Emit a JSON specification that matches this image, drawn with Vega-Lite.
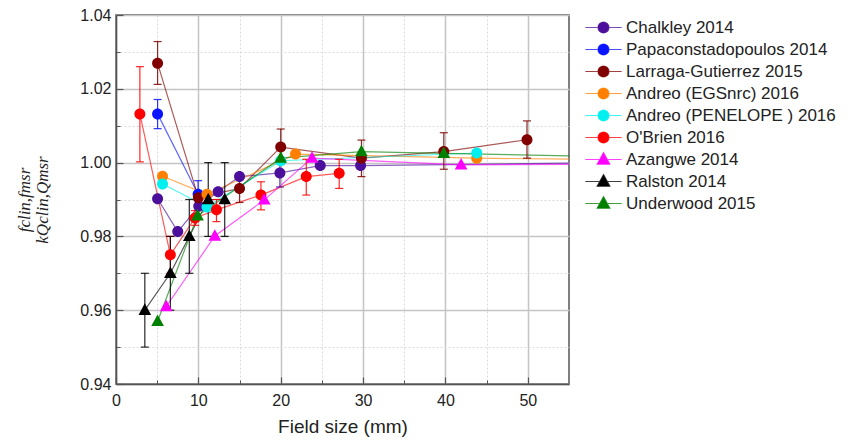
{
  "$schema": "https://vega.github.io/schema/vega-lite/v6.json",
  "width": 453,
  "height": 369,
  "autosize": {"type": "none"},
  "padding": {"left": 116, "top": 15, "right": 291, "bottom": 56},
  "config": {
    "font": "Liberation Sans",
    "view": {"stroke": "#555555", "strokeWidth": 1.5},
    "axis": {"labelColor": "#222222", "titleColor": "#222222", "tickColor": "#555555", "domainColor": "#555555"}
  },
  "data": {
    "values": [
      {"s": "Chalkley 2014", "x": 5.05, "y": 0.9902, "lo": null, "hi": null},
      {"s": "Chalkley 2014", "x": 7.5, "y": 0.9813, "lo": null, "hi": null},
      {"s": "Chalkley 2014", "x": 10.05, "y": 0.9882, "lo": null, "hi": null},
      {"s": "Chalkley 2014", "x": 12.4, "y": 0.9921, "lo": null, "hi": null},
      {"s": "Chalkley 2014", "x": 15.0, "y": 0.9962, "lo": null, "hi": null},
      {"s": "Chalkley 2014", "x": 19.9, "y": 0.9972, "lo": 0.9934, "hi": 1.001},
      {"s": "Chalkley 2014", "x": 24.8, "y": 0.9992, "lo": null, "hi": null},
      {"s": "Chalkley 2014", "x": 29.7, "y": 0.9992, "lo": null, "hi": null},
      {"s": "Chalkley 2014", "x": 60, "y": 1.0, "lo": null, "hi": null},
      {"s": "Papaconstadopoulos 2014", "x": 5.05, "y": 1.0132, "lo": 1.0092, "hi": 1.0171},
      {"s": "Papaconstadopoulos 2014", "x": 9.97, "y": 0.9914, "lo": 0.9878, "hi": 0.9951},
      {"s": "Larraga-Gutierrez 2015", "x": 5.05, "y": 1.0269, "lo": 1.0212, "hi": 1.0328},
      {"s": "Larraga-Gutierrez 2015", "x": 10.0, "y": 0.9905, "lo": null, "hi": null},
      {"s": "Larraga-Gutierrez 2015", "x": 15.0, "y": 0.993, "lo": 0.9892, "hi": 0.9968},
      {"s": "Larraga-Gutierrez 2015", "x": 20.0, "y": 1.0042, "lo": 0.9995, "hi": 1.0091},
      {"s": "Larraga-Gutierrez 2015", "x": 29.8, "y": 1.0012, "lo": 0.9962, "hi": 1.0061},
      {"s": "Larraga-Gutierrez 2015", "x": 39.8, "y": 1.003, "lo": 0.9982, "hi": 1.0081},
      {"s": "Larraga-Gutierrez 2015", "x": 49.9, "y": 1.0062, "lo": 1.0012, "hi": 1.0113},
      {"s": "Andreo (EGSnrc) 2016", "x": 5.65, "y": 0.9963, "lo": null, "hi": null},
      {"s": "Andreo (EGSnrc) 2016", "x": 11.05, "y": 0.9914, "lo": null, "hi": null},
      {"s": "Andreo (EGSnrc) 2016", "x": 21.8, "y": 1.0023, "lo": null, "hi": null},
      {"s": "Andreo (EGSnrc) 2016", "x": 43.8, "y": 1.0012, "lo": null, "hi": null},
      {"s": "Andreo (EGSnrc) 2016", "x": 60, "y": 1.0008, "lo": null, "hi": null},
      {"s": "Andreo (PENELOPE ) 2016", "x": 5.65, "y": 0.9942, "lo": null, "hi": null},
      {"s": "Andreo (PENELOPE ) 2016", "x": 11.05, "y": 0.988, "lo": null, "hi": null},
      {"s": "Andreo (PENELOPE ) 2016", "x": 20.0, "y": 1.0005, "lo": null, "hi": null},
      {"s": "Andreo (PENELOPE ) 2016", "x": 43.8, "y": 1.0026, "lo": null, "hi": null},
      {"s": "O'Brien 2016", "x": 2.9, "y": 1.0132, "lo": 1.0002, "hi": 1.026},
      {"s": "O'Brien 2016", "x": 6.6, "y": 0.975, "lo": 0.97, "hi": 0.98},
      {"s": "O'Brien 2016", "x": 9.6, "y": 0.985, "lo": 0.983, "hi": 0.987},
      {"s": "O'Brien 2016", "x": 12.2, "y": 0.9872, "lo": 0.984, "hi": 0.99},
      {"s": "O'Brien 2016", "x": 17.6, "y": 0.9912, "lo": 0.9872, "hi": 0.9948},
      {"s": "O'Brien 2016", "x": 23.1, "y": 0.9962, "lo": 0.9912, "hi": 1.0009},
      {"s": "O'Brien 2016", "x": 27.1, "y": 0.9971, "lo": 0.993, "hi": 1.0009},
      {"s": "Azangwe 2014", "x": 6.1, "y": 0.961, "lo": null, "hi": null},
      {"s": "Azangwe 2014", "x": 12.0, "y": 0.9801, "lo": null, "hi": null},
      {"s": "Azangwe 2014", "x": 18.0, "y": 0.9899, "lo": null, "hi": null},
      {"s": "Azangwe 2014", "x": 23.8, "y": 1.0012, "lo": null, "hi": null},
      {"s": "Azangwe 2014", "x": 41.9, "y": 0.9994, "lo": null, "hi": null},
      {"s": "Azangwe 2014", "x": 60, "y": 0.9996, "lo": null, "hi": null},
      {"s": "Ralston 2014", "x": 3.5, "y": 0.96, "lo": 0.95, "hi": 0.97},
      {"s": "Ralston 2014", "x": 6.6, "y": 0.97, "lo": 0.96, "hi": 0.98},
      {"s": "Ralston 2014", "x": 8.9, "y": 0.98, "lo": 0.97, "hi": 0.99},
      {"s": "Ralston 2014", "x": 11.2, "y": 0.99, "lo": 0.98, "hi": 1.0},
      {"s": "Ralston 2014", "x": 13.2, "y": 0.99, "lo": 0.98, "hi": 1.0},
      {"s": "Underwood 2015", "x": 5.05, "y": 0.957, "lo": null, "hi": null},
      {"s": "Underwood 2015", "x": 9.9, "y": 0.9856, "lo": null, "hi": null},
      {"s": "Underwood 2015", "x": 20.0, "y": 1.0012, "lo": null, "hi": null},
      {"s": "Underwood 2015", "x": 29.8, "y": 1.003, "lo": null, "hi": null},
      {"s": "Underwood 2015", "x": 39.8, "y": 1.0025, "lo": null, "hi": null},
      {"s": "Underwood 2015", "x": 60, "y": 1.0016, "lo": null, "hi": null}
    ]
  },
  "layer": [
    {
      "mark": {"type": "line", "clip": true, "strokeWidth": 1.2, "opacity": 0.65},
      "encoding": {
        "x": {
          "field": "x", "type": "quantitative",
          "scale": {"domain": [0, 55], "nice": false, "zero": false},
          "axis": {
            "values": [0, 10, 20, 30, 40, 50], "format": "d",
            "title": "Field size (mm)", "titleFontSize": 19, "titleFontWeight": "normal", "titlePadding": 9,
            "labelFontSize": 16, "labelPadding": 15, "labelFlush": false,
            "tickSize": -7, "tickWidth": 1.2, "domainWidth": 1.5,
            "grid": true, "gridColor": "#c4c4c4", "gridWidth": 1.5
          }
        },
        "y": {
          "field": "y", "type": "quantitative",
          "scale": {"domain": [0.94, 1.04], "nice": false, "zero": false},
          "axis": {
            "values": [0.94, 0.96, 0.98, 1.0, 1.02, 1.04], "format": ".2f",
            "title": ["fclin,fmsr", "kQclin,Qmsr"], "titleFont": "Liberation Serif", "titleFontStyle": "italic",
            "titleFontWeight": "normal", "titleFontSize": 17, "titleLineHeight": 18, "titlePadding": 28,
            "labelFontSize": 16, "labelPadding": 12, "labelFlush": false,
            "tickSize": -7, "tickWidth": 1.2, "domainWidth": 1.5,
            "grid": true, "gridColor": "#c4c4c4", "gridWidth": 1.5
          }
        },
        "color": {
          "field": "s", "type": "nominal",
          "scale": {
            "domain": ["Chalkley 2014", "Papaconstadopoulos 2014", "Larraga-Gutierrez 2015", "Andreo (EGSnrc) 2016", "Andreo (PENELOPE ) 2016", "O'Brien 2016", "Azangwe 2014", "Ralston 2014", "Underwood 2015"],
            "range": ["#4b0f9b", "#0a14ff", "#800000", "#ff8000", "#00f0f0", "#ff0000", "#ff00ff", "#000000", "#008000"]
          }
        }
      }
    },
    {
      "transform": [{"filter": "datum.lo != null"}],
      "mark": {"type": "errorbar", "thickness": 1.2, "ticks": {"size": 8}, "opacity": 0.85},
      "encoding": {
        "x": {"field": "x", "type": "quantitative", "scale": {"domain": [0, 55], "nice": false, "zero": false}, "axis": null},
        "y": {"field": "lo", "type": "quantitative", "scale": {"domain": [0.94, 1.04], "nice": false, "zero": false}, "axis": null},
        "y2": {"field": "hi"},
        "color": {"field": "s", "type": "nominal"}
      }
    },
    {
      "mark": {"type": "point", "filled": true, "size": 121, "opacity": 1, "clip": true},
      "encoding": {
        "x": {
          "field": "x", "type": "quantitative", "scale": {"domain": [0, 55], "nice": false, "zero": false},
          "axis": {"orient": "bottom", "values": [5, 15, 25, 35, 45], "labels": false, "domain": false, "title": null, "tickSize": -4, "tickWidth": 1, "grid": true, "gridDash": [2, 2], "gridColor": "#dadada", "gridWidth": 1}
        },
        "y": {
          "field": "y", "type": "quantitative", "scale": {"domain": [0.94, 1.04], "nice": false, "zero": false},
          "axis": {"orient": "left", "values": [0.95, 0.97, 0.99, 1.01, 1.03], "labels": false, "domain": false, "title": null, "tickSize": -4, "tickWidth": 1, "grid": true, "gridDash": [2, 2], "gridColor": "#dadada", "gridWidth": 1}
        },
        "color": {
          "field": "s", "type": "nominal",
          "legend": {
            "title": null, "orient": "right", "offset": 22, "padding": 4,
            "labelFontSize": 17, "labelColor": "#222222", "labelOffset": 14, "labelLimit": 300, "rowPadding": 4,
            "symbolSize": 121, "symbolOpacity": 1,
            "encode": {"symbols": {"update": {"stroke": {"scale": "color", "field": "value"}, "strokeWidth": {"value": 1.2}, "strokeOpacity": {"value": 0.75}, "fillOpacity": {"value": 1}, "opacity": {"value": 1}}}}
          }
        },
        "shape": {
          "field": "s", "type": "nominal",
          "scale": {
            "domain": ["Chalkley 2014", "Papaconstadopoulos 2014", "Larraga-Gutierrez 2015", "Andreo (EGSnrc) 2016", "Andreo (PENELOPE ) 2016", "O'Brien 2016", "Azangwe 2014", "Ralston 2014", "Underwood 2015"],
            "range": [
              "M-3.3,0H3.3M1,0A1,1 0 1,1 -1,0A1,1 0 1,1 1,0Z",
              "M-3.3,0H3.3M1,0A1,1 0 1,1 -1,0A1,1 0 1,1 1,0Z",
              "M-3.3,0H3.3M1,0A1,1 0 1,1 -1,0A1,1 0 1,1 1,0Z",
              "M-3.3,0H3.3M1,0A1,1 0 1,1 -1,0A1,1 0 1,1 1,0Z",
              "M-3.3,0H3.3M1,0A1,1 0 1,1 -1,0A1,1 0 1,1 1,0Z",
              "M-3.3,0H3.3M1,0A1,1 0 1,1 -1,0A1,1 0 1,1 1,0Z",
              "M-3.3,0H3.3M0,-1.25L1.15,0.85L-1.15,0.85Z",
              "M-3.3,0H3.3M0,-1.25L1.15,0.85L-1.15,0.85Z",
              "M-3.3,0H3.3M0,-1.25L1.15,0.85L-1.15,0.85Z"
            ]
          }
        }
      }
    }
  ],
  "resolve": {"axis": {"x": "independent", "y": "independent"}}
}
